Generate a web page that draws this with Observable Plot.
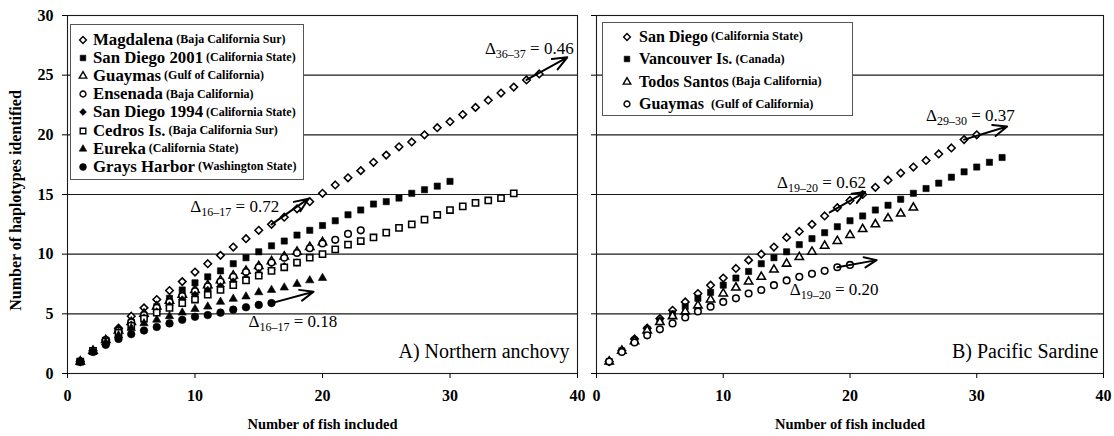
<!DOCTYPE html>
<html><head><meta charset="utf-8">
<script src="https://cdn.jsdelivr.net/npm/d3@7"></script>
<script src="https://cdn.jsdelivr.net/npm/@observablehq/plot@0.6"></script>
<style>
body{margin:0;background:#fff;}
#wrap{position:relative;width:1114px;height:436px;display:flex;font-family:"Liberation Serif","Times New Roman",serif;color:#000;}
#wrap > svg{flex:none;font-family:"Liberation Serif","Times New Roman",serif !important;}
#wrap > svg text{font-family:"Liberation Serif","Times New Roman",serif;}
.legend{position:absolute;background:#fff;border:1px solid #555;box-sizing:border-box;}
.row{display:flex;align-items:center;white-space:pre;font-weight:bold;}
.row svg{flex:none;}
</style></head><body><div id="wrap"></div>
<script>
// ---------- data ----------
const xTicks = [0, 10, 20, 30, 40];
const yTicks = [0, 5, 10, 15, 20, 25, 30];
const xLabel = "Number of fish included";
const yLabel = "Number of haplotypes identified";

// A) Northern anchovy — haplotypes vs number of fish (index i -> i+1 fish)
const anchovyNames = ["Magdalena", "San Diego 2001", "Guaymas", "Ensenada", "San Diego 1994", "Cedros Is.", "Eureka", "Grays Harbor"];
const anchovyRegions = ["(Baja California Sur)", "(California State)", "(Gulf of California)", "(Baja California)", "(California State)", "(Baja California Sur)", "(California State)", "(Washington State)"];
const magdalena = [1, 1.9, 2.8, 3.8, 4.8, 5.5, 6.2, 6.95, 7.7, 8.5, 9.2, 9.9, 10.6, 11.3, 12.0, 12.5, 13.1, 13.8, 14.4, 15.1, 15.8, 16.4, 17.0, 17.7, 18.3, 19.0, 19.4, 20.0, 20.6, 21.1, 21.7, 22.3, 22.9, 23.5, 24.0, 24.6, 25.1];
const sanDiego2001 = [1, 1.9, 2.8, 3.6, 4.3, 4.9, 5.6, 6.3, 7.0, 7.6, 8.1, 8.6, 9.2, 9.7, 10.2, 10.7, 11.1, 11.6, 12.0, 12.4, 12.8, 13.3, 13.7, 14.2, 14.4, 14.7, 15.1, 15.4, 15.7, 16.1];
const guaymasA = [1, 1.9, 2.8, 3.6, 4.3, 5.0, 5.6, 6.1, 6.6, 7.0, 7.4, 7.8, 8.2, 8.6, 9.0, 9.4, 9.8, 10.2, 10.6, 11.0];
const ensenada = [1, 1.9, 2.8, 3.6, 4.3, 4.9, 5.5, 6.0, 6.5, 6.9, 7.3, 7.7, 8.1, 8.5, 8.9, 9.3, 9.7, 10.1, 10.5, 10.9, 11.2, 11.7, 12.0];
const sanDiego1994 = [1, 1.9, 2.7, 3.5, 4.1, 4.7, 5.2, 5.7, 6.2, 6.6, 7.0, 7.3, 7.7, 8.0, 8.4, 8.7, 9.0, 9.3];
const cedros = [1, 1.9, 2.7, 3.4, 4.0, 4.6, 5.1, 5.5, 5.9, 6.2, 6.6, 7.0, 7.4, 7.8, 8.2, 8.6, 8.9, 9.3, 9.7, 10.0, 10.4, 10.8, 11.1, 11.4, 11.8, 12.2, 12.5, 12.9, 13.3, 13.7, 14.0, 14.3, 14.5, 14.7, 15.1];
const eureka = [1, 1.8, 2.6, 3.2, 3.8, 4.2, 4.5, 4.8, 5.1, 5.4, 5.6, 6.0, 6.25, 6.45, 6.8, 7.0, 7.2, 7.5, 7.8, 8.0];
const graysHarbor = [1, 1.8, 2.4, 2.9, 3.3, 3.6, 3.9, 4.2, 4.5, 4.75, 4.9, 5.1, 5.35, 5.55, 5.75, 5.9];
const anchovyValues = [magdalena, sanDiego2001, guaymasA, ensenada, sanDiego1994, cedros, eureka, graysHarbor];
const anchovyNotes = [
  {x: 16.6, y: 14.0, text: "Δ{16–17} = 0.72", anchor: "end"},
  {x: 39.7, y: 27.2, text: "Δ{36–37} = 0.46", anchor: "end"},
  {x: 14.2, y: 4.35, text: "Δ{16–17} = 0.18", anchor: "start"}
];
const anchovyArrows = [
  {x1: 16, y1: 12.5, x2: 18.9, y2: 14.65},
  {x1: 36, y1: 24.6, x2: 39.2, y2: 26.5},
  {x1: 16, y1: 5.9, x2: 19.3, y2: 6.85}
];

// B) Pacific sardine
const sardineNames = ["San Diego", "Vancouver Is.", "Todos Santos", "Guaymas "];
const sardineRegions = ["(California State)", "(Canada)", "(Baja California)", "(Gulf of California)"];
const sanDiegoB = [1, 1.9, 2.9, 3.8, 4.6, 5.3, 6.0, 6.7, 7.4, 8.0, 8.8, 9.5, 10.0, 10.6, 11.4, 11.9, 12.5, 13.2, 13.9, 14.5, 15.0, 15.6, 16.2, 16.8, 17.3, 17.85, 18.4, 18.9, 19.6, 20.0];
const vancouver = [1, 1.9, 2.8, 3.7, 4.4, 5.0, 5.6, 6.3, 6.8, 7.4, 8.0, 8.55, 9.2, 9.7, 10.2, 10.8, 11.3, 11.8, 12.3, 12.8, 13.2, 13.7, 14.1, 14.6, 15.1, 15.5, 15.95, 16.45, 16.9, 17.3, 17.7, 18.1];
const todosSantos = [1, 1.9, 2.7, 3.6, 4.3, 4.8, 5.2, 5.7, 6.2, 6.7, 7.2, 7.7, 8.1, 8.7, 9.2, 9.75, 10.2, 10.7, 11.1, 11.6, 12.1, 12.5, 13.0, 13.4, 13.9];
const guaymasB = [1, 1.8, 2.6, 3.2, 3.7, 4.2, 4.7, 5.2, 5.6, 6.0, 6.3, 6.7, 7.0, 7.4, 7.8, 8.1, 8.35, 8.6, 8.9, 9.1];
const sardineValues = [sanDiegoB, vancouver, todosSantos, guaymasB];
const sardineNotes = [
  {x: 14.25, y: 16.0, text: "Δ{19–20} = 0.62", anchor: "start"},
  {x: 26.0, y: 21.6, text: "Δ{29–30} = 0.37", anchor: "start"},
  {x: 15.25, y: 7.0, text: "Δ{19–20} = 0.20", anchor: "start"}
];
const sardineArrows = [
  {x1: 18.4, y1: 13.5, x2: 21.2, y2: 15.2},
  {x1: 29, y1: 19.6, x2: 32.4, y2: 20.7},
  {x1: 19, y1: 8.9, x2: 22.1, y2: 9.5}
];

// ---------- styles ----------
const anchovySymbols = ["diamond2", "square", "triangle", "circle", "diamond2", "square", "triangle", "circle"];
const anchovyFilled = [false, true, false, false, true, false, true, true];
const sardineSymbols = ["diamond2", "square", "triangle", "circle"];
const sardineFilled = [false, true, false, false];
const symbolR = {diamond2: 3.4, square: 3.5, triangle: 3.1, circle: 3.3};
const FONT = "Liberation Serif";

function markR(sym, filled) { return symbolR[sym] + (filled && sym === "circle" ? 0.5 : 0); }

function makePanel(cfg) {
  const marks = [
    Plot.ruleY(yTicks.slice(1), {stroke: "#1a1a1a", strokeWidth: 1.1}),
    Plot.frame({stroke: "#1a1a1a", strokeWidth: 1.1}),
    Plot.axisX({ticks: xTicks, tickSize: 5, tickPadding: 11, label: null, fontFamily: FONT, fontWeight: "bold", fontSize: 16}),
    cfg.yLabels
      ? Plot.axisY({ticks: yTicks, tickSize: 5, tickPadding: 9, label: null, fontFamily: FONT, fontWeight: "bold", fontSize: 16})
      : Plot.axisY({ticks: yTicks, tickSize: 5, tickFormat: () => "", label: null}),
    Plot.text([xLabel], {text: d => d, frameAnchor: "bottom", dy: 51, lineAnchor: "middle", textAnchor: "middle", fontFamily: FONT, fontWeight: "bold", fontSize: 14.5})
  ];
  if (cfg.yLabels) {
    marks.push(Plot.text([yLabel], {text: d => d, frameAnchor: "left", dx: -52, dy: 6, rotate: -90, lineAnchor: "middle", textAnchor: "middle", fontFamily: FONT, fontWeight: "bold", fontSize: 16}));
  }
  cfg.values.forEach((vals, s) => {
    const rows = vals.map((v, i) => ({x: i + 1, y: v}));
    const sym = cfg.symbols[s], filled = cfg.filled[s];
    marks.push(Plot.dot(rows, {
      x: "x", y: "y", symbol: sym, r: markR(sym, filled),
      fill: filled ? "black" : "white", stroke: "black", strokeWidth: filled ? 0.6 : 1.55
    }));
  });
  marks.push(Plot.arrow(cfg.arrows, {x1: "x1", y1: "y1", x2: "x2", y2: "y2", stroke: "black", strokeWidth: 2, headLength: 14, headAngle: 45}));
  for (const anchor of ["start", "end"]) {
    marks.push(Plot.text(cfg.notes.filter(d => d.anchor === anchor), {x: "x", y: "y", text: "text", textAnchor: anchor, lineAnchor: "middle", fontFamily: FONT, fontSize: 17, fontWeight: "normal"}));
  }
  marks.push(Plot.text([cfg.panelLabel], {text: d => d, frameAnchor: "bottom-right", dx: cfg.panelDx, dy: -22, lineAnchor: "middle", textAnchor: "end", fontFamily: FONT, fontSize: 20, fontWeight: "normal"}));

  const svg = Plot.plot({
    width: cfg.width, height: 436,
    marginLeft: cfg.marginLeft, marginRight: cfg.marginRight, marginTop: 15, marginBottom: 63,
    x: {domain: [0, 40]},
    y: {domain: [0, 30]},
    style: {fontFamily: FONT, fontSize: "16px", color: "black", background: "white", overflow: "visible"},
    marks
  });
  // subscripts for Δ notes
  d3.select(svg).selectAll("text").each(function () {
    const t = this.textContent;
    const m = /^Δ\{(.+)\}(.*)$/.exec(t);
    if (!m) return;
    const el = d3.select(this);
    el.text(null);
    el.append("tspan").text("Δ");
    el.append("tspan").attr("font-size", 12).attr("dy", 4).text(m[1]);
    el.append("tspan").attr("dy", -4).text(m[2]);
  });
  return svg;
}

const wrap = document.getElementById("wrap");
wrap.appendChild(makePanel({
  width: 585, marginLeft: 67, marginRight: 8, yLabels: true,
  values: anchovyValues, symbols: anchovySymbols, filled: anchovyFilled,
  notes: anchovyNotes, arrows: anchovyArrows, panelLabel: "A) Northern anchovy", panelDx: -8
}));
wrap.appendChild(makePanel({
  width: 529, marginLeft: 11, marginRight: 11, yLabels: false,
  values: sardineValues, symbols: sardineSymbols, filled: sardineFilled,
  notes: sardineNotes, arrows: sardineArrows, panelLabel: "B) Pacific Sardine", panelDx: -5
}));

// ---------- legends (HTML overlay) ----------
function legendSymbol(sym, filled) {
  const size = 12;
  const svg = d3.create("svg").attr("width", size).attr("height", size);
  const symType = {diamond2: d3.symbolDiamond2, square: d3.symbolSquare, triangle: d3.symbolTriangle, circle: d3.symbolCircle}[sym];
  const r = markR(sym, filled) * 0.9;
  svg.append("path")
    .attr("transform", `translate(${size / 2},${size / 2})`)
    .attr("d", d3.symbol(symType, Math.PI * r * r)())
    .attr("fill", filled ? "black" : "white").attr("stroke", "black").attr("stroke-width", filled ? 0.6 : 1.4);
  return svg.node();
}
function makeLegend(cfg) {
  const box = document.createElement("div");
  box.className = "legend";
  Object.assign(box.style, {left: cfg.left + "px", top: cfg.top + "px", width: cfg.width + "px", height: cfg.height + "px", paddingTop: cfg.padTop + "px"});
  cfg.names.forEach((name, i) => {
    const row = document.createElement("div");
    row.className = "row";
    row.style.height = cfg.rowH + "px";
    row.style.paddingLeft = cfg.symLeft + "px";
    const s = legendSymbol(cfg.symbols[i], cfg.filled[i]);
    s.style.marginRight = cfg.gap + "px";
    row.appendChild(s);
    const n = document.createElement("span");
    n.textContent = name;
    n.style.fontSize = cfg.nameSize + "px";
    row.appendChild(n);
    const r = document.createElement("span");
    r.textContent = " " + cfg.regions[i];
    r.style.fontSize = cfg.regionSize + "px";
    row.appendChild(r);
    box.appendChild(row);
  });
  wrap.appendChild(box);
}
makeLegend({left: 70, top: 24, width: 234, height: 156, padTop: 5.5, rowH: 18.2, symLeft: 6, gap: 4,
  nameSize: 16.8, regionSize: 12, names: anchovyNames, regions: anchovyRegions, symbols: anchovySymbols, filled: anchovyFilled});
makeLegend({left: 602, top: 22, width: 251, height: 94, padTop: 2.5, rowH: 22.5, symLeft: 18, gap: 6,
  nameSize: 16, regionSize: 12.3, names: sardineNames, regions: sardineRegions, symbols: sardineSymbols, filled: sardineFilled});
</script></body></html>
